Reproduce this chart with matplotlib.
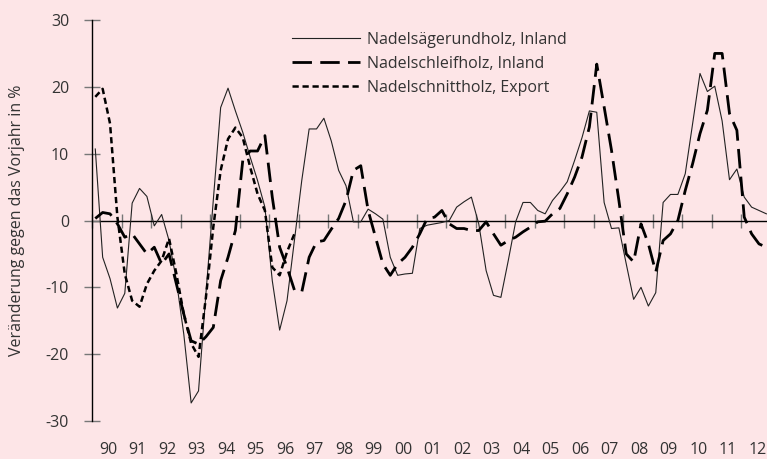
import matplotlib
matplotlib.use("Agg")
import matplotlib.pyplot as plt
import numpy as np

plt.rcParams['font.family'] = ['Open Sans', 'DejaVu Sans']
plt.rcParams['axes.unicode_minus'] = False

# quarterly values, 1990 Q1 .. 2012 Q4
saegerundholz = [
	10.7, -5.5, -8.7, -13.1, -10.9, 2.6, 4.8, 3.6, -0.8, 0.9,
	-3, -9, -17, -27.3, -25.5, -11, 3, 16.9, 19.8, 16.4,
	13.2, 9.5, 6, 2, -9, -16.4, -12, -3, 6, 13.7,
	13.7, 15.3, 11.9, 7.5, 5.2, -0.2, -0.2, 1.7, 1.0, 0.2,
	-5.5, -8.2, -8.0, -7.9, -1.2, -0.7, -0.5, -0.3, 0, 2.0,
	2.8, 3.5, -0.5, -7.5, -11.2, -11.5, -6, -0.2, 2.7, 2.7,
	1.5, 1.0, 3.0, 4.3, 5.8, 9, 12.4, 16.4, 16.2, 2.7,
	-1.2, -1.1, -6.5, -11.8, -10, -12.8, -10.8, 2.7, 3.9, 3.9,
	7.0, 14.5, 22.0, 19.3, 20.1, 14.9, 6.1, 7.7, 3.5, 2.0,
	1.5, 1.0]

schleifholz = [
	0.3, 1.2, 1.0, -0.5, -2.5, -2, -3.5, -5, -4, -6.5,
	-5, -9.5, -14, -18, -18.5, -17.4, -16, -9, -5.5, -1.5,
	9, 10.4, 10.4, 12.7, 3.5, -4, -7, -10.4, -10.7, -5.5,
	-3.2, -3, -1.3, 0.3, 3, 7.5, 8.2, 1.5, -2.5, -6.5,
	-8.2, -6.5, -5.5, -4, -2, 0.3, 0.5, 1.5, -0.5, -1.2,
	-1.2, -1.5, -1.5, -0.2, -2, -3.7, -3, -2.5, -1.7, -1,
	-0.2, -0.1, 1, 1.8, 4, 6.5, 9.5, 14, 23.4, 17,
	10.5, 3, -5, -6.2, -0.5, -3.5, -7.7, -3, -2, 0,
	4.5, 8.5, 13, 16.5, 25, 25, 16, 13.5, 0.5, -2,
	-3.5, -4]

# export series only runs to 1996
schnittholz = [
	18.5, 19.7, 14.5, 0.5, -8, -12, -12.9, -9.5, -7.5, -6,
	-2.7, -8, -14, -18.4, -20.4, -11.5, -1, 7.5, 12.2, 13.9,
	12.4, 8, 4, 1.5, -7, -8.2, -4.7, -2]

year_labels = ['90', '91', '92', '93', '94', '95', '96', '97', '98', '99', '00',
	'01', '02', '03', '04', '05', '06', '07', '08', '09', '10', '11', '12']

labels = ['Nadelsägerundholz, Inland', 'Nadelschleifholz, Inland', 'Nadelschnittholz, Export']

bg = '#fde5e7'
txt = '#333333'
fs = 11.5

def main():
	fig = plt.figure(figsize=(7.67, 4.59), dpi=100, facecolor=bg)
	ax = fig.add_axes([0.12, 0.0828, 0.88, 0.8736], facecolor=bg)

	t1 = 1990.11 + np.arange(len(saegerundholz)) / 4
	t3 = 1990.11 + np.arange(len(schnittholz)) / 4

	ax.plot(t1, saegerundholz, color='#222222', lw=0.8, label=labels[0])
	ax.plot(t1, schleifholz, color='black', lw=2.0, dashes=(7, 3), label=labels[1])
	ax.plot(t3, schnittholz, color='black', lw=1.8, dashes=(2.5, 1.5), label=labels[2])

	ax.set_xlim(1990, 1990 + 675 / 29.5)
	ax.set_ylim(-30, 30)

	for s in ['top', 'right', 'bottom']:
		ax.spines[s].set_visible(False)
	ax.spines['left'].set_color('black')
	ax.spines['left'].set_linewidth(1)

	ax.set_yticks(np.arange(-30, 31, 10))
	ax.tick_params(axis='y', direction='inout', length=11, width=1, color='#777777',
		labelcolor=txt, labelsize=fs, pad=11)

	years = np.arange(1990, 2013)
	ax.set_xticks(years + 0.55)
	ax.set_xticklabels(year_labels)
	ax.tick_params(axis='x', length=0, labelcolor=txt, labelsize=fs, pad=15)

	# zero line with year ticks
	sec = ax.secondary_xaxis(0.5)
	sec.set_xticks(years)
	sec.set_xticklabels([])
	sec.tick_params(direction='inout', length=10, width=1, color='#777777')
	for s in ['top', 'bottom']:
		sec.spines[s].set_color('black')
		sec.spines[s].set_linewidth(1)

	ax.set_ylabel('Veränderung gegen das Vorjahr in %', fontsize=fs, color=txt)
	ax.yaxis.set_label_coords(-0.1, 0.5)

	leg = ax.legend(loc='upper left', bbox_to_anchor=(0.296, 0.97), frameon=False,
		fontsize=fs, handlelength=4.25, handletextpad=0.45, labelspacing=0.5,
		borderpad=0, borderaxespad=0)
	for tx in leg.get_texts():
		tx.set_color(txt)

	fig.savefig('out.png', dpi=100, facecolor=bg)


if __name__ == "__main__":
	main()
